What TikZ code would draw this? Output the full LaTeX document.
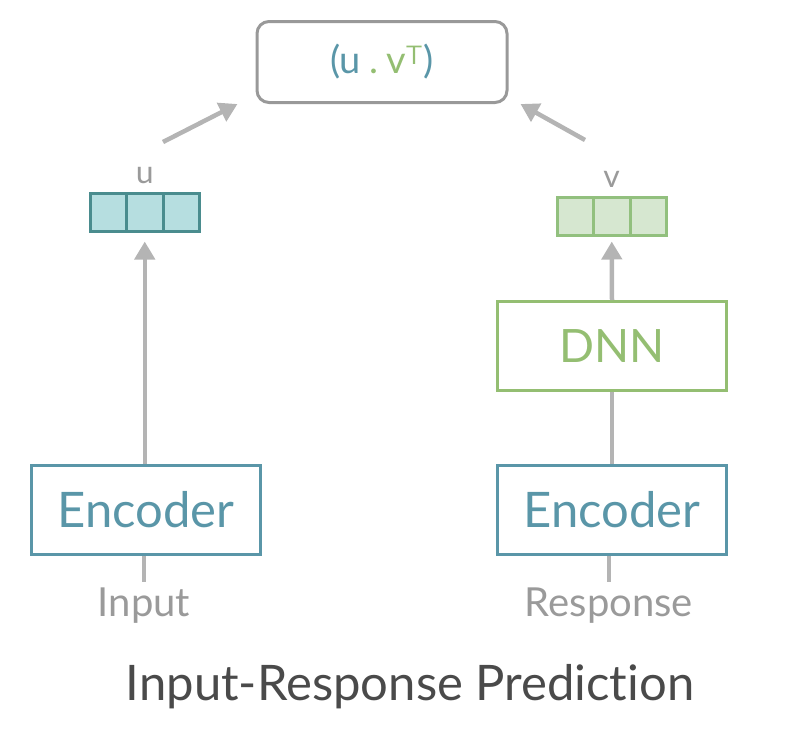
\documentclass[tikz,border=0pt]{standalone}
\usepackage{fontspec}
\setmainfont{Lato}[Ligatures=NoCommon]
\usepackage{xcolor}
\usetikzlibrary{positioning,calc,arrows.meta}

\definecolor{encteal}{HTML}{5A96A8}
\definecolor{dnngreen}{HTML}{94BE72}
\definecolor{ucell}{HTML}{B6DEE0}
\definecolor{uedge}{HTML}{4A8C8E}
\definecolor{vcell}{HTML}{D6E7D0}
\definecolor{vedge}{HTML}{92C07E}
\definecolor{flowgray}{HTML}{B4B4B4}
\definecolor{labelgray}{HTML}{9A9A9A}
\definecolor{titlegray}{HTML}{4A4A4A}

\tikzset{
    blockbox/.style={draw, line width=3pt, minimum width=229pt, minimum height=89pt,
        inner sep=0pt, font=\fontsize{49}{53}\selectfont},
    encbox/.style={blockbox, draw=encteal, text=encteal},
    dnnbox/.style={blockbox, draw=dnngreen, text=dnngreen, font=\fontsize{46}{50}\selectfont},
    ucellbox/.style={draw=uedge, fill=ucell, line width=3pt, minimum width=36.5pt,
        minimum height=38pt, inner sep=0pt, outer sep=0pt},
    vcellbox/.style={ucellbox, draw=vedge, fill=vcell},
    flow/.style={draw=flowgray, line width=4.5pt, -{Triangle[length=18pt,width=20pt]}},
    plainflow/.style={draw=flowgray, line width=4.5pt},
    sidelabel/.style={text=labelgray, font=\fontsize{40}{44}\selectfont},
    veclabel/.style={text=labelgray, font=\fontsize{32}{36}\selectfont}
}

\begin{document}
\begin{tikzpicture}[x=1pt, y=-1pt]
    \useasboundingbox (0,0) rectangle (788,750);

    % score on top
    \node[draw=gray!80, line width=3pt, rounded corners=12pt, minimum width=250pt,
        minimum height=81pt, font=\fontsize{38}{42}\selectfont] (score) at (382,62)
        {\textcolor{encteal}{(u}\hspace{8pt}\textcolor{dnngreen}{.}\hspace{8pt}\textcolor{dnngreen}{v$^{\mathsf{T}}$}\textcolor{encteal}{)}};

    % input side
    \node[encbox] (encin) at (146,510) {Encoder};
    \node[sidelabel] (input) at (144,606) {Input};
    \foreach \i in {1,2,3}
        \node[ucellbox] (u\i) at (90+36.5*\i-18.25,212.5) {};
    \node[veclabel, above=6pt of u2] (ulab) {u};

    % response side
    \node[encbox] (encres) at (612,510) {Encoder};
    \node[dnnbox] (dnn) at (612,346) {DNN};
    \node[sidelabel] (resp) at (609,606) {Response};
    \foreach \i in {1,2,3}
        \node[vcellbox] (v\i) at (557+36.5*\i-18.25,216.5) {};
    \node[veclabel, above=6pt of v2] (vlab) {v};

    % connectors
    \coordinate (intop) at ($(input.north)+(0,-3)$);
    \coordinate (resptop) at ($(resp.north)+(0,-3)$);
    \draw[plainflow] (intop |- encin.south) -- (intop);
    \draw[plainflow] (resptop |- encres.south) -- (resptop);
    \draw[flow, shorten >=10pt] (u2.south |- encin.north) -- (u2.south);
    \draw[plainflow] (encres.north) -- (dnn.south);
    \draw[flow, shorten >=6pt] (dnn.north) -- (v2.south);
    \coordinate (ufrom) at (163,142);
    \coordinate (vfrom) at (585,140);
    \draw[flow] (ufrom) -- ($(score.south west)+(-18,0)$);
    \draw[flow] (vfrom) -- ($(score.south east)+(12,0)$);

    % caption
    \node[text=titlegray, font=\fontsize{49}{53}\selectfont] (title) at (410,687)
        {Input-Response Prediction};
\end{tikzpicture}
\end{document}
